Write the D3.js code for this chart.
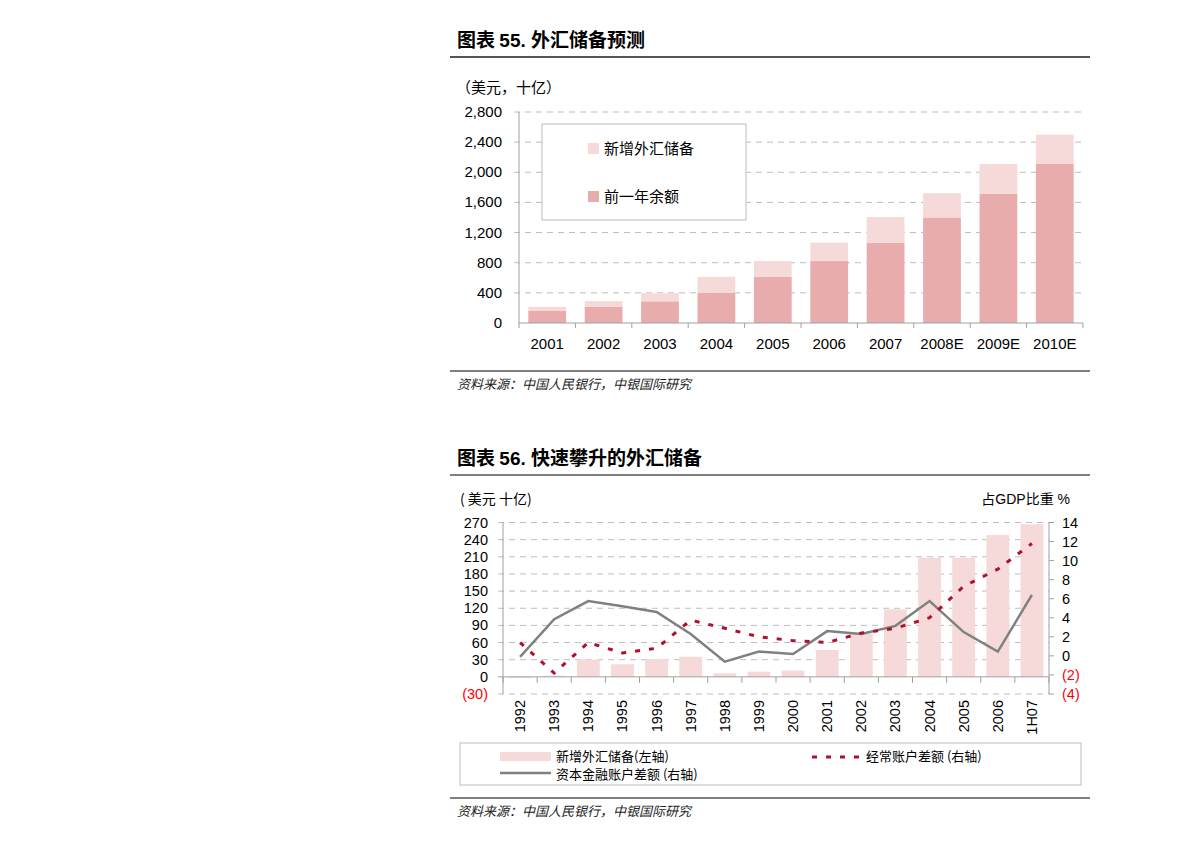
<!DOCTYPE html>
<html><head><meta charset="utf-8">
<script src="https://cdn.jsdelivr.net/npm/d3@7"></script>
<style>
body{margin:0;background:#fff;}
text{font-family:"Liberation Sans",Arial,sans-serif;}
.cjk{font-family:"Noto Sans CJK SC",sans-serif;}
</style></head>
<body><svg id="c" width="1191" height="842"></svg>
<script>
// ---- Chart 55 data ----
const years55 = ["2001","2002","2003","2004","2005","2006","2007","2008E","2009E","2010E"];
const priorBalance = [160, 215, 288, 400, 610, 822, 1066, 1400, 1715, 2110];
const newReserves = [55, 76, 107, 212, 212, 244, 340, 322, 395, 390];
const ticks55 = [0,400,800,1200,1600,2000,2400,2800];

// ---- Chart 56 data ----
const years56 = ["1992","1993","1994","1995","1996","1997","1998","1999","2000","2001","2002","2003","2004","2005","2006","1H07"];
const newFx = [-2, 2, 30.5, 22, 31, 35, 6, 9, 11, 47, 76, 118, 208, 208, 248, 267];
const currentAcct = [1.4, -1.8, 1.4, 0.3, 0.8, 3.75, 2.9, 2.0, 1.6, 1.4, 2.4, 2.9, 4.0, 7.3, 9.1, 11.8];
const capitalAcct = [-0.1, 3.85, 5.75, 5.2, 4.6, 2.3, -0.6, 0.45, 0.2, 2.6, 2.3, 3.15, 5.75, 2.5, 0.45, 6.4];
const ticksLeft = [-30,0,30,60,90,120,150,180,210,240,270];
const ticksRight = [-4,-2,0,2,4,6,8,10,12,14];

const svg = d3.select("#c");
svg.append("rect").attr("width",1191).attr("height",842).attr("fill","#fff");

const LIGHT = "#F6DADA", DARK = "#E8ACAC", GRID = "#BDBDBD", AX = "#A0A0A0";
const fmtParen = v => v < 0 ? "(" + Math.abs(v) + ")" : d3.format(",")(v);

function title(y, num, txt){
  const t = svg.append("text").attr("x",457).attr("y",y).attr("font-size",19).attr("font-weight","bold").attr("fill","#000");
  t.append("tspan").attr("class","cjk").text("图表 ");
  t.append("tspan").attr("font-family","Liberation Sans, Arial").text(num + ". ");
  t.append("tspan").attr("class","cjk").text(txt);
}
function rule(y, w){ svg.append("line").attr("x1",450).attr("x2",1090).attr("y1",y).attr("y2",y).attr("stroke","#555").attr("stroke-width",w); }
function source(y){
  svg.append("text").attr("class","cjk").attr("x",457).attr("y",y).attr("font-size",13).attr("font-style","italic")
    .attr("fill","#222").text("资料来源：中国人民银行，中银国际研究");
}

// ================= Chart 55 =================
title(47, "55", "外汇储备预测");
rule(57, 2);
svg.append("text").attr("class","cjk").attr("x",456).attr("y",93).attr("font-size",15).text("（美元，十亿）");

const x55 = d3.scaleBand().domain(years55).range([519,1083]).paddingInner(0.33).paddingOuter(0.165);
const y55 = d3.scaleLinear().domain([0,2800]).range([323,112]);

const g55 = svg.append("g");
g55.selectAll(".grid").data(ticks55.filter(d=>d>0)).join("line")
  .attr("x1",514).attr("x2",1083).attr("y1",d=>y55(d)).attr("y2",d=>y55(d))
  .attr("stroke",GRID).attr("stroke-dasharray","6,5");
g55.selectAll(".tl").data(ticks55).join("text")
  .attr("x",502).attr("y",d=>y55(d)+5).attr("text-anchor","end").attr("font-size",15).text(d=>d3.format(",")(d));

// bars
g55.selectAll(".prior").data(years55).join("rect")
  .attr("x",d=>x55(d)).attr("width",x55.bandwidth())
  .attr("y",(d,i)=>y55(priorBalance[i])).attr("height",(d,i)=>y55(0)-y55(priorBalance[i]))
  .attr("fill",DARK);
g55.selectAll(".newr").data(years55).join("rect")
  .attr("x",d=>x55(d)).attr("width",x55.bandwidth())
  .attr("y",(d,i)=>y55(priorBalance[i]+newReserves[i])).attr("height",(d,i)=>y55(priorBalance[i])-y55(priorBalance[i]+newReserves[i]))
  .attr("fill",LIGHT);

// axes
g55.append("line").attr("x1",519).attr("x2",519).attr("y1",112).attr("y2",323).attr("stroke",AX);
g55.append("line").attr("x1",519).attr("x2",1083).attr("y1",323).attr("y2",323).attr("stroke",AX);
const bounds55 = d3.range(years55.length+1).map(i=>519 + i*(1083-519)/years55.length);
g55.selectAll(".xt").data(bounds55).join("line").attr("x1",d=>d).attr("x2",d=>d).attr("y1",323).attr("y2",328).attr("stroke",AX);
g55.selectAll(".xl").data(years55).join("text")
  .attr("x",d=>x55(d)+x55.bandwidth()/2).attr("y",349).attr("text-anchor","middle").attr("font-size",15).text(d=>d);

// legend
const lg = svg.append("g");
lg.append("rect").attr("x",542).attr("y",124).attr("width",204).attr("height",96).attr("fill","#fff").attr("stroke","#BDBDBD");
const leg55 = [{c:LIGHT,t:"新增外汇储备",y:149},{c:DARK,t:"前一年余额",y:197}];
lg.selectAll(".sw").data(leg55).join("rect").attr("x",588).attr("y",d=>d.y-6).attr("width",11).attr("height",11).attr("fill",d=>d.c);
lg.selectAll(".lt").data(leg55).join("text").attr("class","cjk").attr("x",604).attr("y",d=>d.y+5).attr("font-size",15).text(d=>d.t);

rule(371, 1.5);
source(389);

// ================= Chart 56 =================
title(465, "56", "快速攀升的外汇储备");
rule(475, 1.5);
svg.append("text").attr("class","cjk").attr("x",460).attr("y",504).attr("font-size",14).text("( 美元 十亿)");
svg.append("text").attr("x",1070).attr("y",504).attr("text-anchor","end").attr("font-size",14)
  .html('<tspan class="cjk">占</tspan><tspan>GDP</tspan><tspan class="cjk">比重</tspan><tspan> %</tspan>');

const x56 = d3.scaleBand().domain(years56).range([503,1049]).paddingInner(0.33).paddingOuter(0.165);
const yL = d3.scaleLinear().domain([-30,270]).range([694,522.5]);
const yR = d3.scaleLinear().domain([-4,14]).range([694,522.5]);
const cx = d => x56(d) + x56.bandwidth()/2;

const g56 = svg.append("g");
g56.selectAll(".grid").data(ticksLeft.filter(d=>d!==0)).join("line")
  .attr("x1",498).attr("x2",1049).attr("y1",d=>yL(d)).attr("y2",d=>yL(d))
  .attr("stroke",GRID).attr("stroke-dasharray","6,5");
g56.selectAll(".tl").data(ticksLeft).join("text")
  .attr("x",488).attr("y",d=>yL(d)+5).attr("text-anchor","end").attr("font-size",14.5)
  .attr("fill",d=>d<0?"#FF0000":"#000").text(fmtParen);
g56.selectAll(".tr").data(ticksRight).join("text")
  .attr("x",1062).attr("y",d=>yR(d)+5).attr("text-anchor","start").attr("font-size",14.5)
  .attr("fill",d=>d<0?"#FF0000":"#000").text(fmtParen);

// bars
g56.selectAll(".fx").data(years56).join("rect")
  .attr("x",d=>x56(d)).attr("width",x56.bandwidth())
  .attr("y",(d,i)=>Math.min(yL(newFx[i]),yL(0))).attr("height",(d,i)=>Math.abs(yL(0)-yL(newFx[i])))
  .attr("fill",LIGHT);

// axes
g56.append("line").attr("x1",503).attr("x2",503).attr("y1",522.5).attr("y2",694).attr("stroke",AX);
g56.append("line").attr("x1",1049).attr("x2",1049).attr("y1",522.5).attr("y2",694).attr("stroke",AX);
g56.append("line").attr("x1",498).attr("x2",1049).attr("y1",yL(0)).attr("y2",yL(0)).attr("stroke",AX);
g56.selectAll(".rt").data(ticksRight).join("line").attr("x1",1049).attr("x2",1054).attr("y1",d=>yR(d)).attr("y2",d=>yR(d)).attr("stroke",AX);
const bounds56 = d3.range(years56.length+1).map(i=>503 + i*(1049-503)/years56.length);
g56.selectAll(".xt").data(bounds56).join("line").attr("x1",d=>d).attr("x2",d=>d).attr("y1",yL(0)).attr("y2",yL(0)+6).attr("stroke",AX);
g56.selectAll(".xl").data(years56).join("text")
  .attr("transform",d=>`translate(${cx(d)+5},700) rotate(-90)`).attr("text-anchor","end").attr("font-size",14.5).text(d=>d);

// lines
const lineR = vals => d3.line().x((d,i)=>cx(years56[i])).y(d=>yR(d))(vals);
g56.append("path").attr("d",lineR(capitalAcct)).attr("fill","none").attr("stroke","#808080").attr("stroke-width",2.5);
g56.append("path").attr("d",lineR(currentAcct)).attr("fill","none").attr("stroke","#B0102E").attr("stroke-width",3).attr("stroke-dasharray","5,9");

// legend
const l2 = svg.append("g");
l2.append("rect").attr("x",460).attr("y",743).attr("width",621).attr("height",42).attr("fill","#fff").attr("stroke","#BDBDBD");
l2.append("rect").attr("x",500).attr("y",752).attr("width",51).attr("height",9).attr("fill",LIGHT);
l2.append("text").attr("class","cjk").attr("x",556).attr("y",761).attr("font-size",13).text("新增外汇储备(左轴)");
l2.append("line").attr("x1",500).attr("x2",551).attr("y1",773).attr("y2",773).attr("stroke","#808080").attr("stroke-width",2.5);
l2.append("text").attr("class","cjk").attr("x",556).attr("y",779).attr("font-size",13).text("资本金融账户差额 (右轴)");
l2.append("line").attr("x1",812).attr("x2",864).attr("y1",757).attr("y2",757).attr("stroke","#B0102E").attr("stroke-width",3).attr("stroke-dasharray","5,9");
l2.append("text").attr("class","cjk").attr("x",866).attr("y",761).attr("font-size",13).text("经常账户差额 (右轴)");

rule(798, 1.5);
source(816);
</script></body></html>
